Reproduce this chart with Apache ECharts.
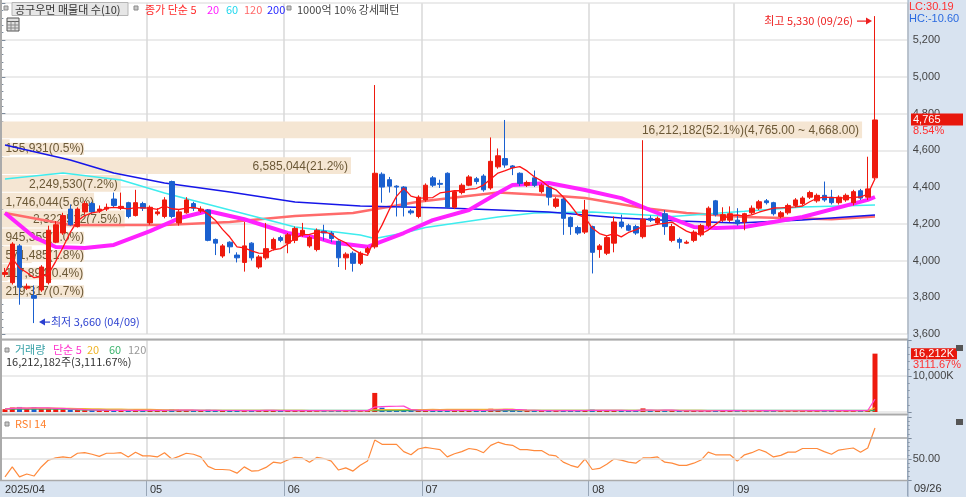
<!DOCTYPE html>
<html><head><meta charset="utf-8">
<script src="https://cdn.jsdelivr.net/npm/echarts@6/dist/echarts.min.js"></script>
<style>html,body{margin:0;padding:0;background:#fff}#c{width:966px;height:497px}</style>
</head><body><div id="c"></div>
<script>
// ---------------- data ----------------
const dates = [
'2025/04/03','2025/04/04','2025/04/07','2025/04/08','2025/04/09','2025/04/10','2025/04/11','2025/04/14','2025/04/15','2025/04/16',
'2025/04/17','2025/04/18','2025/04/21','2025/04/22','2025/04/23','2025/04/24','2025/04/25','2025/04/28','2025/04/29','2025/04/30',
'2025/05/02','2025/05/07','2025/05/08','2025/05/09','2025/05/12','2025/05/13','2025/05/14','2025/05/15','2025/05/16','2025/05/19',
'2025/05/20','2025/05/21','2025/05/22','2025/05/23','2025/05/26','2025/05/27','2025/05/28','2025/05/29','2025/05/30',
'2025/06/02','2025/06/04','2025/06/05','2025/06/09','2025/06/10','2025/06/11','2025/06/12','2025/06/13','2025/06/16','2025/06/17',
'2025/06/18','2025/06/19','2025/06/20','2025/06/23','2025/06/24','2025/06/25','2025/06/26','2025/06/27','2025/06/30',
'2025/07/01','2025/07/02','2025/07/03','2025/07/04','2025/07/07','2025/07/08','2025/07/09','2025/07/10','2025/07/11','2025/07/14',
'2025/07/15','2025/07/16','2025/07/17','2025/07/18','2025/07/21','2025/07/22','2025/07/23','2025/07/24','2025/07/25','2025/07/28',
'2025/07/29','2025/07/30','2025/07/31',
'2025/08/01','2025/08/04','2025/08/05','2025/08/06','2025/08/07','2025/08/08','2025/08/11','2025/08/12','2025/08/13','2025/08/14',
'2025/08/18','2025/08/19','2025/08/20','2025/08/21','2025/08/22','2025/08/25','2025/08/26','2025/08/27','2025/08/28','2025/08/29',
'2025/09/01','2025/09/02','2025/09/03','2025/09/04','2025/09/05','2025/09/08','2025/09/09','2025/09/10','2025/09/11','2025/09/12',
'2025/09/15','2025/09/16','2025/09/17','2025/09/18','2025/09/19','2025/09/22','2025/09/23','2025/09/24','2025/09/25','2025/09/26'];

const opens = [3925,3880,4080,3850,3810,3840,3880,4100,4150,4280,4185,4265,4310,4270,4280,4335,4285,4315,4245,4310,
4205,4255,4240,4430,4205,4260,4310,4270,4275,4115,4025,4100,4030,3990,4095,3965,4015,4065,4125,
4095,4110,4140,4080,4060,4160,4150,4105,4015,4040,3985,4045,4075,4470,4440,4405,4400,4270,4240,
4330,4450,4420,4475,4290,4370,4410,4445,4460,4395,4510,4555,4515,4475,4410,4450,4375,4400,4295,4335,4235,4180,4155,
4185,4060,4040,4095,4210,4190,4185,4130,4230,4205,4255,4110,4115,4095,4110,4140,4190,4325,4220,4220,
4220,4210,4260,4285,4325,4315,4240,4260,4300,4310,4345,4325,4355,4345,4315,4330,4315,4380,4345,4450];
const closes = [3935,4090,3855,3860,3795,3965,4165,4195,4245,4195,4280,4310,4265,4280,4290,4300,4295,4240,4315,4285,
4290,4265,4330,4240,4265,4330,4285,4280,4110,4095,4080,4075,4015,4080,4015,4020,4065,4115,4110,
4140,4175,4165,4125,4165,4150,4120,4015,4035,3985,4040,4065,4475,4400,4405,4400,4290,4260,4345,
4410,4410,4415,4290,4375,4410,4455,4430,4385,4540,4570,4520,4505,4420,4425,4410,4410,4345,4335,4230,4185,4150,4275,
4045,4080,4125,4210,4185,4165,4150,4225,4220,4230,4185,4185,4100,4100,4155,4190,4285,4250,4250,4255,
4200,4255,4285,4320,4315,4255,4260,4300,4330,4340,4370,4355,4330,4315,4345,4355,4375,4340,4390,4765];
const lows = [3910,3870,3760,3840,3660,3830,3870,4095,4140,4190,4180,4250,4255,4260,4270,4290,4275,4230,4240,4270,
4195,4245,4230,4230,4190,4255,4270,4260,4105,4030,4015,4040,3990,3940,4000,3955,4005,4055,4100,
4040,4095,4130,4070,4050,4110,4100,3965,3950,3940,3975,4035,4065,4315,4370,4240,4240,4250,4230,
4320,4400,4395,4285,4280,4360,4405,4415,4375,4385,4500,4505,4465,4405,4400,4400,4365,4300,4285,4140,4140,4140,4145,
3930,4015,4030,4045,4175,4160,4140,4120,4210,4195,4140,4100,4065,4090,4100,4130,4180,4240,4210,4210,
4190,4165,4250,4275,4305,4245,4230,4250,4290,4300,4335,4315,4320,4305,4305,4320,4300,4330,4330,4440];
const highs = [3960,4100,4090,3875,3865,3975,4190,4215,4260,4305,4290,4325,4320,4300,4310,4370,4370,4320,4385,4320,
4300,4285,4345,4435,4275,4345,4320,4295,4280,4120,4090,4105,4045,4210,4100,4030,4205,4125,4135,
4150,4185,4205,4135,4175,4195,4160,4110,4045,4050,4050,4075,4955,4480,4455,4410,4405,4280,4355,
4420,4460,4440,4480,4380,4420,4465,4455,4470,4670,4610,4765,4520,4480,4435,4490,4420,4410,4345,4345,4240,4190,4330,
4190,4090,4135,4240,4250,4200,4195,4655,4245,4240,4275,4200,4125,4110,4165,4200,4295,4330,4290,4295,
4285,4260,4300,4330,4335,4320,4270,4310,4340,4350,4380,4365,4430,4385,4355,4365,4385,4390,4565,5330];

const volumes = [780000,1250000,1400000,900000,1300000,950000,1100000,820000,760000,640000,600000,
520000,480000,430000,450000,470000,420000,460000,500000,400000,450000,380000,520000,700000,450000,480000,360000,340000,600000,420000,380000,
350000,360000,520000,410000,380000,450000,420000,300000,380000,420000,330000,350000,430000,310000,300000,450000,400000,380000,340000,360000,
5300000,1200000,650000,480000,560000,420000,480000,450000,420000,380000,
520000,450000,400000,430000,350000,420000,900000,700000,850000,450000,420000,330000,380000,310000,360000,330000,520000,420000,350000,430000,
650000,420000,380000,480000,400000,300000,320000,1000000,450000,350000,400000,420000,330000,260000,300000,320000,450000,400000,330000,340000,
350000,380000,360000,400000,330000,370000,300000,340000,380000,350000,420000,330000,480000,400000,350000,330000,450000,400000,521013,16212182];

const rsi14 = [33,42.4,33,35.7,33.8,42.4,49,51,52,51,55.5,56,54.5,52.5,55.5,55.5,56,52,56.5,53,
53,52,56,50,52.5,55.5,54.5,52,43,40,40,39.5,36.5,42.5,38.5,39,42,47,46,
49,51.5,51,47,51.5,50.5,48,39.5,41.5,38.5,44,48,68,64,64,64,57,54,59.5,
61,60,59,52,55,57,60,59,56,63,66,64,63,59,59,58,58,54,53,47,44,42,50,
40,41,45,50,49,47,46,51,51,52,47,46,44,44,46,49,56.5,54,54,54,
48,54,56,59,56.5,52,53.5,56.5,56.5,60,60,60,57,54.5,58.5,59.5,60.5,56.5,60.5,79.5];

// moving averages: [candle index, value]
const ma20Pts = [[0,4259],[4,4128],[7,4074],[11,4068],[15,4085],[20,4160],[24,4230],[28,4270],[33,4225],[39,4150],[43,4125],[45,4100],[50,4075],[51,4090],[55,4150],[59,4220],[64,4275],[68,4368],[70,4411],[75,4422],[80,4384],[85,4340],[89,4275],[95,4183],[98,4177],[102,4183],[110,4237],[119,4330],[120,4346]];
const ma60Pts = [[0,4444],[8,4476],[16,4438],[22,4368],[31,4275],[40,4183],[49,4139],[51,4120],[55,4150],[58,4180],[68,4237],[73,4259],[81,4265],[92,4240],[102,4268],[110,4292],[120,4302]];
const ma120Pts = [[0,4259],[9,4194],[22,4194],[31,4210],[40,4243],[48,4259],[57,4320],[68,4370],[75,4355],[80,4340],[88,4286],[94,4259],[102,4237],[114,4225],[120,4240]];
const ma200Pts = [[0,4629],[9,4547],[15,4476],[22,4422],[31,4373],[40,4319],[49,4297],[61,4286],[75,4264],[85,4232],[93,4215],[101,4205],[110,4221],[120,4248]];
const volMa60Pts = [[0,850000],[9,850000],[10,600000],[18,450000],[60,430000],[120,420000]];

// volume profile (매물대) bands
const bandLow    = [3795,3892,3989,4086,4183,4280,4377,4474,4571,4668];
const bandHigh   = [3892,3989,4086,4183,4280,4377,4474,4571,4668,4765];
const bandVolume = [219317,117894,571485,945359,2322512,1746044,2249530,6585044,155931,16212182];
const bandPct    = [0.7,0.4,1.8,3.0,7.5,5.6,7.2,21.2,0.5,52.1];

const priceTicks = [3600,3800,4000,4200,4400,4600,4800,5000,5200];

// ---------------- helpers ----------------
const N = dates.length;
const cats = dates.concat(['','','','']);
const monthStart = dates.map((d,i)=> i===0 || d.slice(5,7)!==dates[i-1].slice(5,7));
const monthLabel = i => i===0 ? dates[0].slice(0,7) : (dates[i]||'').slice(5,7);
const fmt = v => Math.round(v).toLocaleString('en-US');
const fmt2 = v => v.toLocaleString('en-US',{minimumFractionDigits:2,maximumFractionDigits:2});
const FK = '"Noto Sans CJK KR","Liberation Sans",sans-serif';
const FN = '"Liberation Sans","Noto Sans CJK KR",Arial,sans-serif';
const UP = '#ee1a0e', DN = '#1a60cf', BAND = '#f5e6d3';

function rolling(arr, n){
  return arr.map((v,i)=>{ const s=Math.max(0,i-n+1); let t=0; for(let k=s;k<=i;k++) t+=arr[k]; return +(t/(i-s+1)).toFixed(2); });
}
const ma5 = rolling(closes,5);
const volMa5 = rolling(volumes,5);
const volMa20 = rolling(volumes,20);
const ohlc = closes.map((c,i)=>[opens[i],c,lows[i],highs[i]]);
const volData = volumes.map((v,i)=>({value:v,itemStyle:{color: closes[i]>=opens[i]?UP:DN}}));
const lastClose = closes[N-1];
const bandData = bandVolume.map((v,i)=>[v,bandLow[i],bandHigh[i],bandPct[i]]);

const mctx = document.createElement('canvas').getContext('2d');
function tw(s,font){ mctx.font=font; return mctx.measureText(s).width; }

function renderBand(params, api){
  const i = params.dataIndex;
  const v = api.value(0), lo = api.value(1), hi = api.value(2), pct = api.value(3);
  const a = api.coord([0,hi]), b = api.coord([v,lo]);
  const x0 = params.coordSys.x;
  const top = a[1]+1.5, h = b[1]-a[1]-1;
  let label = fmt(v)+'('+pct.toFixed(1)+'%)';
  if (lastClose>=lo && lastClose<=hi) label += '('+fmt2(hi)+' ~ '+fmt2(lo)+')';
  const font = '12px '+FN;
  const w = tw(label,font);
  const endX = Math.max(b[0]-3, x0+4+w);
  return {type:'group', children:[
    {type:'rect', shape:{x:x0, y:top, width:Math.max(0,b[0]-x0), height:h}, style:{fill:BAND}},
    {type:'text', style:{text:label, x:endX, y:top+h/2+1, textAlign:'right', textVerticalAlign:'middle',
      fill:'#6b5836', font:font, backgroundColor:BAND}}
  ]};
}

function catAxis(g, lab){
  return {type:'category', gridIndex:g, data:cats, boundaryGap:true,
    axisLine:{show:false},
    axisTick:{show:lab, interval:(i)=>i>0&&i<N&&monthStart[i], length:16, lineStyle:{color:'#98a6b7',width:1}},
    axisLabel:{show:lab, interval:(i)=>i<N&&monthStart[i], formatter:(v,i)=>monthLabel(i), align:'left',
      margin:4, color:'#333', fontSize:11, fontFamily:FN},
    splitLine:{show:true, interval:(i)=>i>0&&i<N&&monthStart[i], lineStyle:{color:'#d9d9d9',width:1.5}}
  };
}
function maLine(pts,color,width,z){
  return {type:'line', xAxisIndex:0, yAxisIndex:0, data:pts, symbol:'none', silent:true, z:z,
    lineStyle:{color:color,width:width}, itemStyle:{color:color}};
}
const axisCommon = {position:'right',
  axisLine:{show:true,lineStyle:{color:'#95a6ba',width:1}},
  axisTick:{show:true,length:4,lineStyle:{color:'#7d8b9c'}},
  minorTick:{show:true,splitNumber:5,length:2,lineStyle:{color:'#7d8b9c'}}};

const chart = echarts.init(document.getElementById('c'));
const option = {
  animation:false,
  backgroundColor:'#ffffff',
  grid:[
    {left:1.375, top:3.24, width:906.25, height:330.88},
    {left:1.375, top:340, width:906.25, height:72},
    {left:1.375, top:417, width:906.25, height:63}
  ],
  xAxis:[catAxis(0,false), catAxis(1,false), catAxis(2,true),
    {type:'value', gridIndex:0, min:0, max:17070000, show:false, position:'top'}],
  yAxis:[
    Object.assign({type:'value', gridIndex:0, min:priceTicks[0], max:5400, interval:200,
      axisLabel:{margin:5,color:'#444',fontSize:11,fontFamily:FN,showMaxLabel:false,
        formatter:v=>priceTicks.indexOf(v)>=0?fmt(v):''},
      splitLine:{show:true,lineStyle:{color:'#e4e4e4',width:1.5}}}, axisCommon),
    Object.assign({type:'value', gridIndex:1, min:0, max:20000000, interval:10000000,
      axisLabel:{margin:5,color:'#444',fontSize:11,fontFamily:FN,
        formatter:v=>v===10000000?fmt(v/1000)+'K':''},
      splitLine:{show:true,lineStyle:{color:'#e4e4e4',width:1.5}}}, axisCommon),
    Object.assign({type:'value', gridIndex:2, min:30, max:90, interval:20,
      axisLabel:{margin:5,color:'#444',fontSize:11,fontFamily:FN,
        formatter:v=>v===50?v.toFixed(2):''},
      splitLine:{show:false}}, axisCommon)
  ],
  series:[
    {type:'custom', xAxisIndex:3, yAxisIndex:0, renderItem:renderBand, data:bandData,
      encode:{x:0,y:[1,2]}, z:1, silent:true, clip:false},
    maLine(ma120Pts,'#ff6b6b',2.5,2),
    maLine(ma60Pts,'#3eecee',1.5,2),
    maLine(ma200Pts,'#1616e8',1.5,2),
    maLine(ma20Pts,'#ff22ff',4,2),
    {type:'candlestick', xAxisIndex:0, yAxisIndex:0, data:ohlc, barWidth:5, z:3, silent:true,
      itemStyle:{color:UP,color0:DN,borderColor:UP,borderColor0:DN,borderWidth:1}},
    maLine(ma5,'#ff1414',1.3,4),
    {type:'bar', xAxisIndex:1, yAxisIndex:1, data:volData, barWidth:5, z:3, silent:true},
    {type:'line', xAxisIndex:1, yAxisIndex:1, data:volMa60Pts, symbol:'none', silent:true, z:4, lineStyle:{color:'#3caa6a',width:1.5}},
    {type:'line', xAxisIndex:1, yAxisIndex:1, data:volMa20, symbol:'none', silent:true, z:4, lineStyle:{color:'#f2b632',width:1.2}},
    {type:'line', xAxisIndex:1, yAxisIndex:1, data:volMa5, symbol:'none', silent:true, z:4, lineStyle:{color:'#ff44cc',width:1.2}},
    {type:'line', xAxisIndex:2, yAxisIndex:2, data:rsi14, symbol:'none', silent:true, z:4,
      lineStyle:{color:'#ff8a3c',width:1.2},
      markLine:{silent:true, symbol:'none', label:{show:false}, animation:false,
        data:[{yAxis:50,lineStyle:{color:'#e2e2e2',width:1.5,type:'solid'}},
              {yAxis:70,lineStyle:{color:'#a6a6a6',width:1.5,type:'solid'}}]}}
  ]
};
chart.setOption(option);

// ---------------- annotations ----------------
const pY = chart.convertToPixel({yAxisIndex:0}, lastClose);
const vY = chart.convertToPixel({yAxisIndex:1}, volumes[N-1]);
let loIdx = 0; lows.forEach((v,i)=>{ if(v<lows[loIdx]) loIdx=i; });
let hiIdx = 0; highs.forEach((v,i)=>{ if(v>highs[hiIdx]) hiIdx=i; });
const hiPt = chart.convertToPixel({xAxisIndex:0,yAxisIndex:0},[hiIdx,highs[hiIdx]]);
const loPt = chart.convertToPixel({xAxisIndex:0,yAxisIndex:0},[loIdx,lows[loIdx]]);
const chg = (lastClose/closes[N-2]-1)*100;
const volPct = volumes[N-1]/volumes[N-2]*100;
const LC = (lastClose/lows[loIdx]-1)*100, HC = (lastClose/highs[hiIdx]-1)*100;

function T(x,y,text,fill,size,font,align){
  return {type:'text', x:x, y:y, z:50, silent:true,
    style:{text:text, fill:fill, font:(size||11)+'px '+(font||FK), textAlign:align||'left', textVerticalAlign:'middle'}};
}
function sq(x,y){ return {type:'rect', z:50, silent:true, shape:{x:x,y:y,width:4,height:4}, style:{fill:'#c8c8c8',stroke:'#8a8a8a',lineWidth:1}}; }
function L(x1,y1,x2,y2,c,w,z){ return {type:'line', z:z||40, silent:true, shape:{x1:x1,y1:y1,x2:x2,y2:y2}, style:{stroke:c,lineWidth:w||1}}; }

const g = [
  {type:'rect', z:-5, silent:true, shape:{x:908,y:0,width:58,height:497}, style:{fill:'#d8e3f0'}},
  {type:'rect', z:-5, silent:true, shape:{x:0,y:481,width:966,height:16}, style:{fill:'#d8e3f0'}},
  L(0,339.5,908,339.5,'#aaaaaa',2), L(0,414.5,908,414.5,'#aaaaaa',2), L(0,480.5,908,480.5,'#aaaaaa',1.5),
  L(1,0,1,481,'#aaaaaa',2), L(908,0,908,497,'#95a6ba',1),
  // price header
  sq(4,6),
  {type:'rect', z:49, silent:true, shape:{x:12,y:2.5,width:116,height:13}, style:{fill:'#e6e6e6',stroke:'#b5b5b5',lineWidth:1}},
  T(15,9.5,'공구우먼 매물대 수(10)','#333',11),
  sq(134,6),
  T(145,9.5,'종가 단순 5','#ff2a2a',11), T(207,9.5,'20','#ff22ff',11), T(226,9.5,'60','#22d8ee',11),
  T(244,9.5,'120','#ff6a6a',11), T(267,9.5,'200','#2a2aff',11),
  sq(287,6),
  T(297,9.5,'1000억 10% 강세패턴','#444',11),
  {type:'rect', z:50, silent:true, shape:{x:7,y:18,width:12,height:13}, style:{fill:'#e0e0e0',stroke:'#555',lineWidth:1}},
  L(7,21.5,19,21.5,'#666',1,51), L(7,25,19,25,'#888',1,51), L(7,28,19,28,'#888',1,51),
  L(11,21.5,11,31,'#888',1,51), L(15,21.5,15,31,'#888',1,51),
  // right axis texts
  T(909,7,'LC:'+LC.toFixed(2),'#ff3030',11,FN),
  T(909,19,'HC:'+HC.toFixed(2),'#2a6ae0',11,FN),
  {type:'rect', z:50, silent:true, shape:{x:911,y:pY-6.5,width:52,height:12}, style:{fill:'#e8170c'}},
  T(913,pY,fmt(lastClose),'#ffffff',11,FN),
  T(913,pY+11,chg.toFixed(2)+'%','#ff3030',11,FN),
  {type:'rect', z:50, silent:true, shape:{x:911,y:vY-5.5,width:46,height:11}, style:{fill:'#e8170c'}},
  T(913,vY,fmt(volumes[N-1]/1000)+'K','#ffffff',11,FN),
  T(913,vY+11,volPct.toFixed(2)+'%','#ff3030',11,FN),
  {type:'rect', z:50, silent:true, shape:{x:956,y:345,width:7,height:6}, style:{fill:'#555'}},
  {type:'rect', z:50, silent:true, shape:{x:956,y:419,width:7,height:6}, style:{fill:'#555'}},
  T(914,489,dates[N-1].slice(5),'#333',11,FN),
  // high / low markers
  T(hiPt[0]-22,hiPt[1]+5,'최고 '+fmt(highs[hiIdx])+' ('+dates[hiIdx].slice(5)+')','#ee2020',11,FK,'right'),
  L(hiPt[0]-18,hiPt[1]+5,hiPt[0]-7,hiPt[1]+5,'#ee2020',1.2),
  {type:'polygon', z:41, silent:true, shape:{points:[[hiPt[0]-3,hiPt[1]+5],[hiPt[0]-9,hiPt[1]+1.5],[hiPt[0]-9,hiPt[1]+8.5]]}, style:{fill:'#ee2020'}},
  {type:'polygon', z:41, silent:true, shape:{points:[[loPt[0]+5,loPt[1]-1],[loPt[0]+11,loPt[1]-4.5],[loPt[0]+11,loPt[1]+2.5]]}, style:{fill:'#2a3fd0'}},
  L(loPt[0]+9,loPt[1]-1,loPt[0]+16,loPt[1]-1,'#2a3fd0',1.2),
  T(loPt[0]+17,loPt[1]-1,'최저 '+fmt(lows[loIdx])+' ('+dates[loIdx].slice(5)+')','#2a3fd0',11,FK),
  // volume header
  sq(5,348),
  T(15,350,'거래량','#36a0a6',11), T(53,350,'단순 5','#ff33cc',11), T(87,350,'20','#f0b428',11),
  T(109,350,'60','#3cb46e',11), T(128,350,'120','#999999',11),
  T(6,362,fmt(volumes[N-1])+'주('+fmt2(volPct)+'%)','#333',11),
  // RSI header
  sq(5,422),
  T(15,424,'RSI 14','#ff7f2a',11)
];
chart.setOption({graphic:{elements:g}});
</script>
</body></html>
